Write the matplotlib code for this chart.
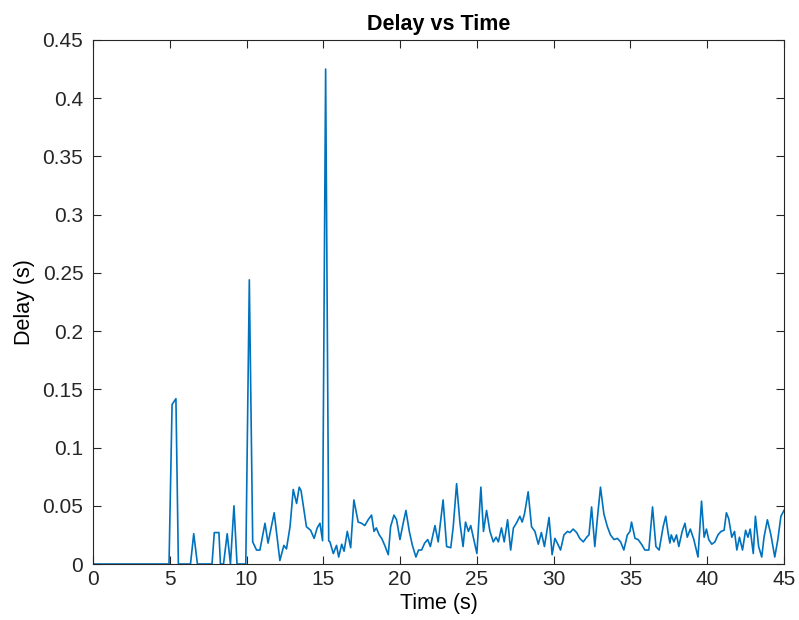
import matplotlib.pyplot as plt
from matplotlib.ticker import FormatStrFormatter

# puncte (timp in s, intarziere in s)
time_s = [0, 4.95, 5.15, 5.4, 5.56, 6.35, 6.56, 6.8, 7.75, 7.9, 8.2, 8.3, 8.5, 8.74,
          8.95, 9.18, 9.38, 9.95, 10.18, 10.4, 10.65, 10.87, 11.2, 11.4, 11.8, 12.17,
          12.43, 12.6, 12.83, 13.04, 13.26, 13.43, 13.55, 13.9, 14.17, 14.4, 14.6, 14.78,
          14.95, 15.15, 15.35, 15.43, 15.65, 15.86, 16.0, 16.2, 16.35, 16.56, 16.78,
          16.99, 17.27, 17.49, 17.7, 17.92, 18.14, 18.3, 18.45, 18.64, 18.8, 19.0, 19.23,
          19.38, 19.6, 19.77, 19.99, 20.2, 20.38, 20.6, 20.8, 21.03, 21.2, 21.4, 21.6,
          21.8, 21.97, 22.27, 22.48, 22.8, 23.03, 23.3, 23.46, 23.68, 23.9, 24.1, 24.26,
          24.45, 24.6, 24.87, 25.0, 25.26, 25.43, 25.63, 25.85, 26.07, 26.25, 26.4, 26.6,
          26.78, 27.0, 27.2, 27.38, 27.57, 27.8, 27.95, 28.1, 28.34, 28.56, 28.78, 29.0,
          29.2, 29.4, 29.7, 29.9, 30.08, 30.2, 30.45, 30.67, 30.9, 31.06, 31.27, 31.5,
          31.7, 31.93, 32.15, 32.3, 32.47, 32.68, 32.86, 33.05, 33.27, 33.5, 33.7, 33.93,
          34.15, 34.36, 34.57, 34.8, 34.97, 35.07, 35.3, 35.5, 35.72, 35.94, 36.2, 36.44,
          36.66, 36.87, 37.13, 37.3, 37.45, 37.57, 37.66, 37.83, 38.0, 38.15, 38.37,
          38.55, 38.7, 38.9, 39.13, 39.4, 39.63, 39.8, 39.95, 40.1, 40.3, 40.5, 40.7,
          40.9, 41.1, 41.25, 41.4, 41.6, 41.78, 41.93, 42.1, 42.3, 42.5, 42.65, 42.8,
          43.0, 43.14, 43.35, 43.55, 43.7, 43.92, 44.15, 44.4, 44.6, 44.8, 45.0]
delay_s = [0, 0, 0.137, 0.142, 0, 0, 0.026, 0, 0, 0.027, 0.027, 0, 0, 0.026,
           0, 0.05, 0, 0, 0.244, 0.019, 0.012, 0.012, 0.035, 0.018, 0.044, 0.003,
           0.016, 0.013, 0.032, 0.064, 0.052, 0.066, 0.063, 0.032, 0.029, 0.022, 0.031, 0.035,
           0.02, 0.425, 0.02, 0.019, 0.009, 0.016, 0.006, 0.017, 0.011, 0.028, 0.014,
           0.055, 0.036, 0.035, 0.033, 0.038, 0.042, 0.028, 0.031, 0.025, 0.022, 0.016, 0.008,
           0.032, 0.042, 0.038, 0.021, 0.035, 0.046, 0.028, 0.016, 0.006, 0.012, 0.012, 0.018,
           0.021, 0.015, 0.033, 0.019, 0.055, 0.015, 0.014, 0.032, 0.069, 0.035, 0.015, 0.036,
           0.028, 0.033, 0.017, 0.009, 0.066, 0.028, 0.046, 0.028, 0.019, 0.023, 0.019, 0.031,
           0.019, 0.038, 0.012, 0.031, 0.035, 0.041, 0.036, 0.043, 0.062, 0.032, 0.028, 0.017,
           0.027, 0.015, 0.04, 0.008, 0.022, 0.019, 0.012, 0.025, 0.028, 0.027, 0.03, 0.027,
           0.022, 0.019, 0.023, 0.025, 0.049, 0.015, 0.041, 0.066, 0.043, 0.032, 0.025, 0.021,
           0.022, 0.019, 0.012, 0.025, 0.028, 0.036, 0.022, 0.021, 0.017, 0.012, 0.012, 0.049,
           0.015, 0.012, 0.032, 0.041, 0.027, 0.018, 0.025, 0.019, 0.025, 0.015, 0.028,
           0.035, 0.023, 0.03, 0.021, 0.006, 0.054, 0.023, 0.03, 0.021, 0.017, 0.019, 0.025,
           0.028, 0.029, 0.044, 0.039, 0.023, 0.028, 0.012, 0.023, 0.012, 0.029, 0.023, 0.03,
           0.009, 0.041, 0.015, 0.006, 0.023, 0.038, 0.025, 0.006, 0.021, 0.041, 0.046]

x_ticks = [0, 5, 10, 15, 20, 25, 30, 35, 40, 45]
y_ticks = [0, 0.05, 0.1, 0.15, 0.2, 0.25, 0.3, 0.35, 0.4, 0.45]

plt.rcParams['font.family'] = ['Liberation Sans', 'DejaVu Sans']

fig = plt.figure(figsize=(7.99, 6.2), dpi=100)
ax = fig.add_axes([0.1164, 0.0903, 0.8648, 0.8452])
ax.plot(time_s, delay_s, color='#0072BD', linewidth=1.2)

ax.set_xlim(0, 45)
ax.set_ylim(0, 0.45)
ax.set_xticks(x_ticks)
ax.set_yticks(y_ticks)
ax.yaxis.set_major_formatter(FormatStrFormatter('%g'))
ax.tick_params(direction='in', top=True, right=True, length=6, width=0.8,
               labelsize=15, colors='#262626')
ax.tick_params(axis='y', pad=7)
ax.tick_params(axis='x', pad=4)
for spine in ax.spines.values():
    spine.set_linewidth(0.8)
    spine.set_color('#262626')

ax.set_title('Delay vs Time', fontsize=15.5, fontweight='bold', pad=7)
ax.set_xlabel('Time (s)', fontsize=15.5, labelpad=3)
ax.set_ylabel('Delay (s)', fontsize=15.5, labelpad=5)

fig.savefig('out.png', dpi=100)
